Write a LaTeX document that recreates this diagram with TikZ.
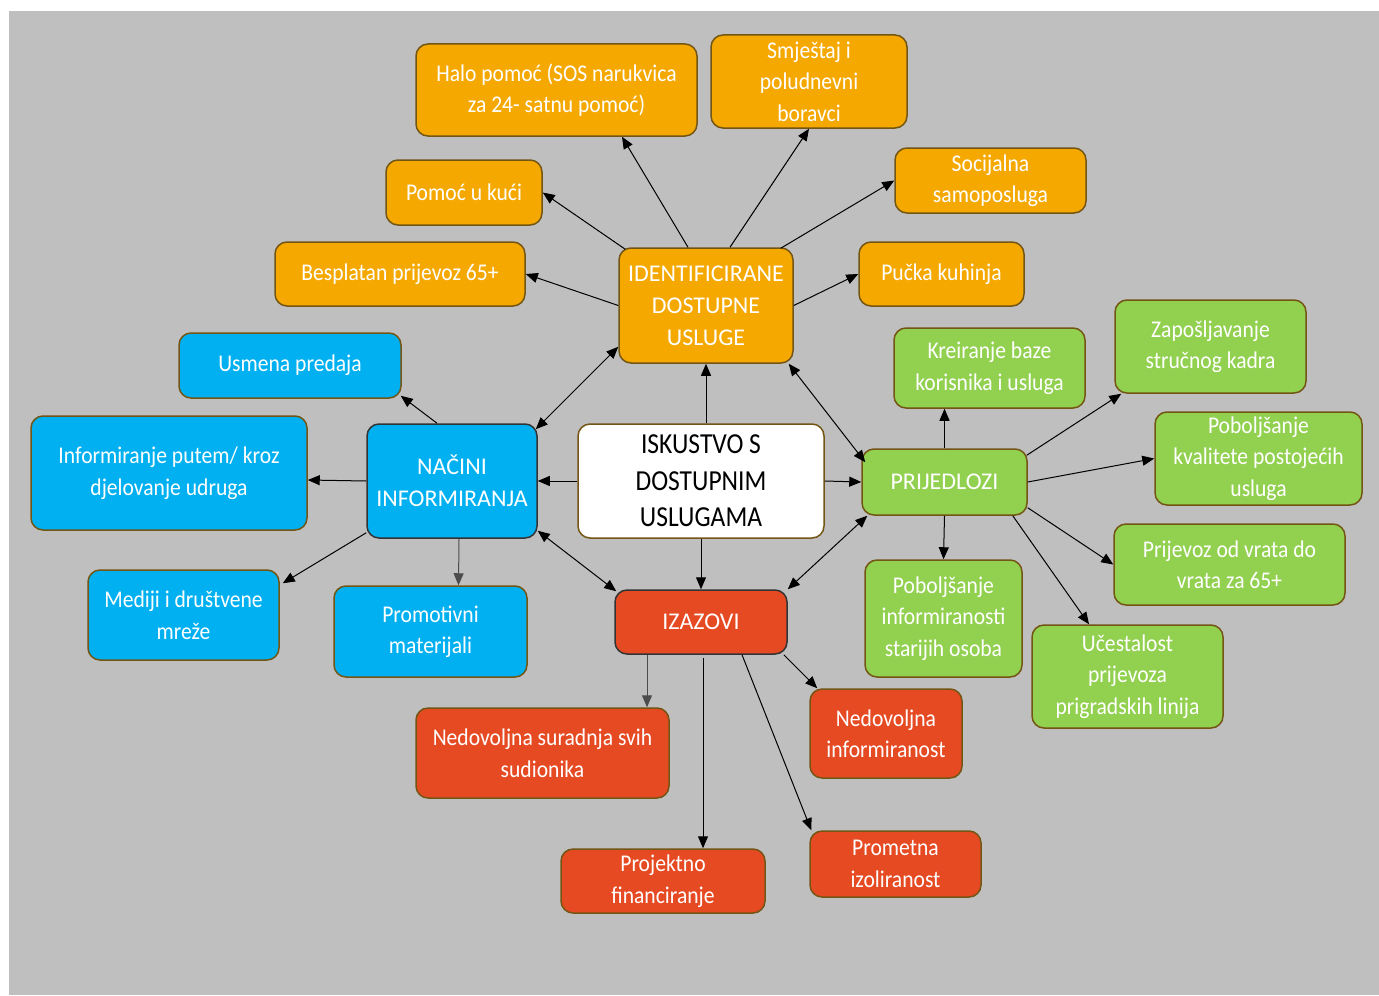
\documentclass[tikz,border=0pt]{standalone}
\usepackage{fontspec}
\setmainfont{Carlito}
\newfontfamily\leaffont{Carlito}[FakeStretch=0.9]
\newfontfamily\centarfont{Carlito}[FakeStretch=0.88]
\usetikzlibrary{arrows.meta,calc}

\definecolor{bggray}{RGB}{191,191,191}
\definecolor{uslorange}{RGB}{245,168,0}
\definecolor{infblue}{RGB}{0,176,240}
\definecolor{prijgreen}{RGB}{146,208,80}
\definecolor{izred}{RGB}{230,74,34}
\definecolor{boxline}{RGB}{115,85,20}

\tikzset{
  box/.style={draw=boxline, line width=0.75pt, rounded corners=6pt, align=center,
    inner sep=0pt, text=white, font=\leaffont\fontsize{12}{15.75}\selectfont},
  wh/.style 2 args={minimum width=#1, minimum height=#2},
  usl/.style={box, fill=uslorange},
  inf/.style={box, fill=infblue},
  prij/.style={box, fill=prijgreen},
  izaz/.style={box, fill=izred},
  hub/.style={font=\fontsize{12}{16}\selectfont},
  arr/.style={-{Triangle[length=6pt,width=5pt]}, line width=0.5pt, black},
  barr/.style={{Triangle[length=6pt,width=5pt]}-{Triangle[length=6pt,width=5pt]}, line width=0.5pt, black}
}

\begin{document}
\begin{tikzpicture}[x=0.5pt, y=-0.5pt]
  \useasboundingbox (0,0) rectangle (1379,995);
  \fill[bggray] (9,11) rectangle (1379,995);

  % sredisnji cvor
  \node[box, wh={123pt}{57pt}, fill=white, text=black, font=\centarfont\fontsize{14.5}{18.25}\selectfont]
    (centar) at (701,481) {ISKUSTVO S\\DOSTUPNIM\\USLUGAMA};

  % glavne grane
  \node[usl, hub, wh={87pt}{57.5pt}] (ident) at (706,305.5) {IDENTIFICIRANE\\DOSTUPNE\\USLUGE};
  \node[inf, hub, wh={85pt}{57pt}, draw=black!80] (nacini) at (452,481) {NAČINI\\INFORMIRANJA};
  \node[prij, hub, wh={82.5pt}{33pt}] (prijedlozi) at (944.5,482) {PRIJEDLOZI};
  \node[izaz, hub, wh={86pt}{32pt}, draw=black!80] (izazovi) at (701,622) {IZAZOVI};

  % dostupne usluge
  \node[usl, wh={140.5pt}{46pt}] (halo) at (556.5,90) {Halo pomoć (SOS narukvica\\za 24- satnu pomoć)};
  \node[usl, wh={98pt}{46.5pt}] (smjestaj) at (809,81.5) {Smještaj i\\poludnevni\\boravci};
  \node[usl, wh={78pt}{32.5pt}] (pomoc) at (464,192.5) {Pomoć u kući};
  \node[usl, wh={95.5pt}{32.5pt}] (socijalna) at (990.5,180.5) {Socijalna\\samoposluga};
  \node[usl, wh={125pt}{32pt}] (besplatan) at (400,274) {Besplatan prijevoz 65+};
  \node[usl, wh={82.5pt}{32pt}] (pucka) at (941.5,274) {Pučka kuhinja};

  % nacini informiranja
  \node[inf, wh={111pt}{32.5pt}] (usmena) at (290,365.5) {Usmena predaja};
  \node[inf, wh={138pt}{57pt}] (udruge) at (169,473) {Informiranje putem/ kroz\\djelovanje udruga};
  \node[inf, wh={95.5pt}{45pt}] (mediji) at (183.5,615) {Mediji i društvene\\mreže};
  \node[inf, wh={96.5pt}{45.5pt}] (promotivni) at (430.5,631.5) {Promotivni\\materijali};

  % prijedlozi
  \node[prij, wh={95.5pt}{40pt}] (kreiranje) at (989.5,368) {Kreiranje baze\\korisnika i usluga};
  \node[prij, wh={95.5pt}{46.5pt}] (kadar) at (1210.5,346.5) {Zapošljavanje\\stručnog kadra};
  \node[prij, wh={103.5pt}{46.5pt}] (kvaliteta) at (1258.5,458.5) {Poboljšanje\\kvalitete postojećih\\usluga};
  \node[prij, wh={115.5pt}{40.5pt}] (prijevoz) at (1229.5,564.5) {Prijevoz od vrata do\\vrata za 65+};
  \node[prij, wh={78.5pt}{58.5pt}] (informiranost) at (943.5,618.5) {Poboljšanje\\informiranosti\\starijih osoba};
  \node[prij, wh={95.5pt}{51.5pt}] (ucestalost) at (1127.5,676.5) {Učestalost\\prijevoza\\prigradskih linija};

  % izazovi
  \node[izaz, wh={126.5pt}{45pt}] (suradnja) at (542.5,753) {Nedovoljna suradnja svih\\sudionika};
  \node[izaz, wh={76pt}{44.5pt}] (nedinf) at (886,733.5) {Nedovoljna\\informiranost};
  \node[izaz, wh={102pt}{32pt}] (projektno) at (663,881) {Projektno\\financiranje};
  \node[izaz, wh={85.5pt}{33pt}] (prometna) at (895.5,864) {Prometna\\izoliranost};

  % veze od sredista
  \draw[arr] ($(centar.north)+(5,0)$) -- (ident.south);
  \draw[arr] (centar.west) -- (nacini.east);
  \draw[arr] (centar.east) -- (prijedlozi.west);
  \draw[arr] (centar.south) -- (izazovi.north);

  % dvosmjerne veze
  \draw[barr] ($(nacini.north east)+(-2,6)$) -- ($(ident.south west)+(0,-17)$);
  \draw[barr] ($(ident.south east)+(-5,0)$) -- ($(prijedlozi.north west)+(4,14)$);
  \draw[barr] ($(nacini.south east)+(0,-8)$) -- ($(izazovi.north west)+(2,2)$);
  \draw[barr] (izazovi.north east) -- ($(prijedlozi.south west)+(6,0)$);

  % dostupne usluge
  \draw[arr] ($(ident.north)+(-18,0)$) -- ($(halo.south)+(65.5,0)$);
  \draw[arr] ($(ident.north)+(24,0)$) -- (smjestaj.south);
  \draw[arr] ($(ident.north west)+(7,2)$) -- (pomoc.east);
  \draw[arr] ($(ident.north east)+(-13,1)$) -- (socijalna.west);
  \draw[arr] (ident.west) -- (besplatan.east);
  \draw[arr] (ident.east) -- (pucka.west);

  % nacini informiranja
  \draw[arr] ($(nacini.north)+(-15,0)$) -- ($(usmena.south east)+(-1,-3)$);
  \draw[arr] (nacini.west) -- ($(udruge.east)+(0,7)$);
  \draw[arr] ($(nacini.south west)+(0,-6)$) -- ($(mediji.north east)+(3,14)$);
  \draw[arr, black!70] ($(nacini.south)+(7,0)$) -- ($(promotivni.north)+(28,0)$);

  % prijedlozi
  \draw[arr] (prijedlozi.north) -- ($(kreiranje.south)+(-45,0)$);
  \draw[arr] ($(prijedlozi.north east)+(-1,7)$) -- ($(kadar.south west)+(7,0)$);
  \draw[arr] (prijedlozi.east) -- (kvaliteta.west);
  \draw[arr] ($(prijedlozi.south east)+(0,-8)$) -- (prijevoz.west);
  \draw[arr] (prijedlozi.south) -- (informiranost.north);
  \draw[arr] ($(prijedlozi.south east)+(-15,0)$) -- ($(ucestalost.north)+(-38.5,0)$);

  % izazovi
  \draw[arr, black!70] ($(izazovi.south)+(-54,0)$) -- ($(suradnja.north)+(104.5,0)$);
  \draw[arr] ($(izazovi.south)+(2,3)$) -- ($(projektno.north)+(40,0)$);
  \draw[arr] ($(izazovi.south east)+(-4,0)$) -- ($(nedinf.north west)+(8,0)$);
  \draw[arr] ($(izazovi.south)+(41,0)$) -- ($(prometna.north west)+(2,0)$);
\end{tikzpicture}
\end{document}
